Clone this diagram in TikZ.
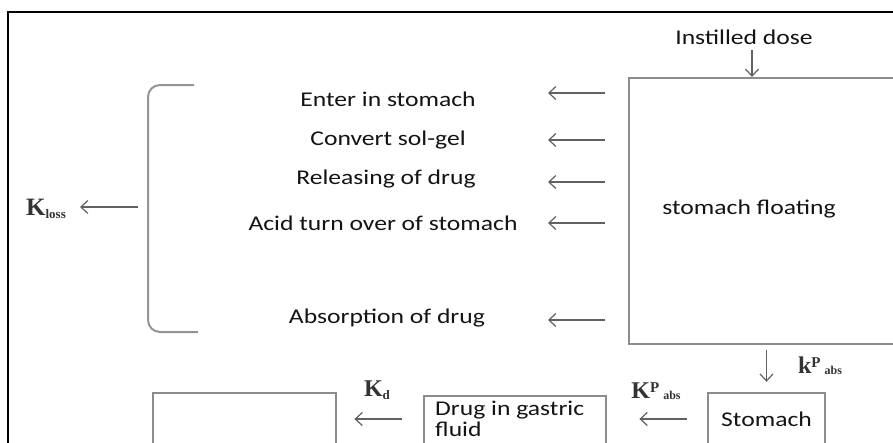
\documentclass[tikz,border=0pt]{standalone}
\usepackage{fontspec}
\setmainfont{Carlito}
\newfontfamily\kfont{Liberation Serif}
\usetikzlibrary{arrows.meta}
\newcommand{\wide}[1]{\scalebox{1.22}[1]{#1}}
\begin{document}
\begin{tikzpicture}[x=1pt,y=-1pt,
  txt/.style={font=\fontsize{21}{21}\selectfont, text=black!92, inner sep=0pt},
  klab/.style={font=\kfont\bfseries, text=black!80, inner sep=0pt},
  box/.style={draw=black!45, line width=2.4pt, inner sep=0pt},
  arr/.style={draw=black!62, line width=1.2pt, -{Straight Barb[length=7pt,width=13pt,line width=1.2pt]}},
  brk/.style={draw=black!42, line width=2pt, rounded corners=12pt}]
\useasboundingbox (0,0) rectangle (893,442);
\clip (0,0) rectangle (893,442);
\fill[white] (0,0) rectangle (893,442);
% outer frame
\draw[line width=2.4pt, black] (8,460) -- (8,12) -- (910,12);

% top box
\node[txt] (dose) at (744,37) {\wide{Instilled dose}};
\node[box, anchor=north west, minimum width=300pt, minimum height=266pt] (sf) at (628,77) {};
\node[txt] (sft) at (749,209) {\wide{stomach floating}};
\coordinate (doseA) at (752,50);
\draw[arr] (doseA) -- (doseA |- sf.north);

% items
\node[txt] (i1) at (388,99) {\wide{Enter in stomach}};
\node[txt] (i2) at (388,140) {\wide{Convert sol-gel}};
\node[txt] (i3) at (386,179) {\wide{Releasing of drug}};
\node[txt] (i4) at (383,223) {\wide{Acid turn over of stomach}};
\node[txt] (i5) at (387,318) {\wide{Absorption of drug}};
\foreach \n/\y in {1/93,2/140,3/182,4/223,5/320}{
  \coordinate (a\n s) at (605,\y);
  \coordinate (a\n e) at (548,\y);
  \draw[arr] (a\n s) -- (a\n e);
}

% bracket and K_loss
\draw[brk] (194,85) -- (148,85) -- (148,332) -- (198,332);
\node[klab] (kloss) at (46,209) {\fontsize{25}{25}\selectfont K\raisebox{-3pt}{\fontsize{13}{13}\selectfont loss}};
\coordinate (brk) at (148,207);
\draw[arr, shorten <=10pt, shorten >=14pt] (brk) -- (kloss.east |- brk);

% bottom row
\node[box, minimum width=117pt, minimum height=52pt, txt] (st) at (766.5,419) {\wide{Stomach}};
\node[box, anchor=north west, minimum width=182pt, minimum height=75pt] (dg) at (423,395) {};
\node[txt, anchor=north west, align=left, font=\fontsize{21}{21}\selectfont] (dgt) at (435,401) {\wide{Drug in gastric}\\[0pt]\wide{fluid}};
\node[box, anchor=north west, minimum width=183pt, minimum height=75pt] (lb) at (152,392) {};

\draw[arr, shorten <=5pt, shorten >=10pt] (st.north |- sf.south) -- (st.north);
\draw[arr, shorten <=20pt, shorten >=32pt] (st.west) -- (st.west -| dg.east);
\draw[arr, shorten <=21pt, shorten >=17pt] (dg.west |- st.west) -- (lb.east |- st.west);

\node[klab] (kpabs) at (820,366) {\fontsize{24}{24}\selectfont k\raisebox{6pt}{\fontsize{15}{15}\selectfont P}\,\raisebox{-1pt}{\fontsize{12}{12}\selectfont abs}};
\node[klab] (kpabs2) at (656,391) {\fontsize{24}{24}\selectfont K\raisebox{6pt}{\fontsize{15}{15}\selectfont P}\,\raisebox{-1pt}{\fontsize{12}{12}\selectfont abs}};
\node[klab] (kd) at (377,390) {\fontsize{24}{24}\selectfont K\raisebox{-3pt}{\fontsize{13}{13}\selectfont d}};
\end{tikzpicture}
\end{document}
